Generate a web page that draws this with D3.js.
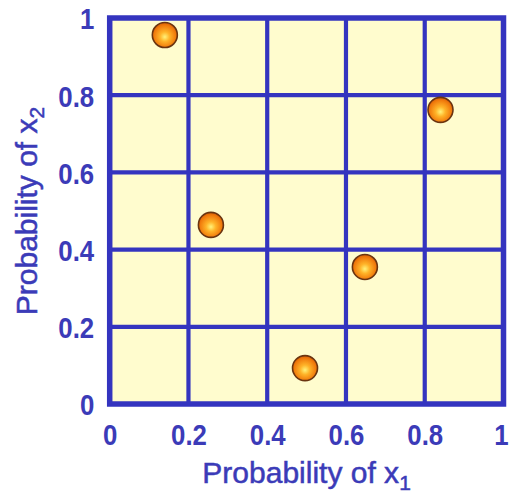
<!DOCTYPE html>
<html>
<head>
<meta charset="utf-8">
<script src="https://cdn.jsdelivr.net/npm/d3@7"></script>
<style>
  html, body { margin: 0; padding: 0; background: #ffffff; }
  svg { display: block; }
  .tick text { font-family: "Liberation Sans", Arial, sans-serif; }
</style>
</head>
<body>
<svg id="chart" width="509" height="495"></svg>
<script>
// Sample points: probability of x1 and x2
const px1 = [0.14, 0.84, 0.257, 0.648, 0.496];
const px2 = [0.956, 0.762, 0.464, 0.355, 0.093];
const tickValues = [0, 0.2, 0.4, 0.6, 0.8, 1];
const tickLabels = ["0", "0.2", "0.4", "0.6", "0.8", "1"];
const xTitle = "Probability of x";
const yTitle = "Probability of x";
const subscriptX = "1";
const subscriptY = "2";

const blue = "#3434bf";
const textBlue = "#3b3bb8";
const fill = "#fffcce";

const svg = d3.select("#chart");
const margin = { left: 109.7, top: 18, right: 5.5, bottom: 91 };
const W = 509, H = 495;

const x = d3.scaleLinear().domain([0, 1]).range([margin.left, W - margin.right]);
const y = d3.scaleLinear().domain([0, 1]).range([H - margin.bottom, margin.top]);

// Gradient for the ball markers
const defs = svg.append("defs");
const grad = defs.append("radialGradient")
  .attr("id", "ball").attr("cx", "50%").attr("cy", "55%").attr("r", "55%")
  .attr("fx", "50%").attr("fy", "58%");
grad.append("stop").attr("offset", "0%").attr("stop-color", "#fff27a");
grad.append("stop").attr("offset", "35%").attr("stop-color", "#ffb328");
grad.append("stop").attr("offset", "80%").attr("stop-color", "#f07a0c");
grad.append("stop").attr("offset", "100%").attr("stop-color", "#d85d05");

// Plot background
svg.append("rect")
  .attr("x", x(0)).attr("y", y(1))
  .attr("width", x(1) - x(0)).attr("height", y(0) - y(1))
  .attr("fill", fill);

// Inner grid lines
const inner = tickValues.filter(v => v > 0 && v < 1);
svg.append("g").selectAll("line.v").data(inner).join("line")
  .attr("x1", d => x(d)).attr("x2", d => x(d))
  .attr("y1", y(0)).attr("y2", y(1))
  .attr("stroke", blue).attr("stroke-width", 4.2);
svg.append("g").selectAll("line.h").data(inner).join("line")
  .attr("y1", d => y(d)).attr("y2", d => y(d))
  .attr("x1", x(0)).attr("x2", x(1))
  .attr("stroke", blue).attr("stroke-width", 4.2);

// Frame
svg.append("rect")
  .attr("x", x(0)).attr("y", y(1))
  .attr("width", x(1) - x(0)).attr("height", y(0) - y(1))
  .attr("fill", "none").attr("stroke", blue).attr("stroke-width", 5.5);

// Axes (labels only, slightly condensed)
const fmt = (d, i) => tickLabels[i];
const xAxis = svg.append("g")
  .attr("transform", `translate(0,${y(0)})`)
  .call(d3.axisBottom(x).tickValues(tickValues).tickFormat(fmt).tickSize(0).tickPadding(41));
const yAxis = svg.append("g")
  .attr("transform", `translate(${x(0)},0)`)
  .call(d3.axisLeft(y).tickValues(tickValues).tickFormat(fmt).tickSize(0).tickPadding(18));
[xAxis, yAxis].forEach(g => {
  g.select(".domain").remove();
  g.selectAll(".tick text")
    .attr("fill", textBlue)
    .attr("font-size", 30)
    .attr("font-weight", "bold")
    .attr("transform", "scale(0.86,1)")
    .attr("dy", "0.36em");
});
xAxis.selectAll(".tick text").attr("dy", "0");
// keep the last x label inside the page edge
xAxis.selectAll(".tick text").filter(d => d === 1).attr("dx", -3);

// Points
svg.append("g").selectAll("circle").data(px1.map((v, i) => [v, px2[i]])).join("circle")
  .attr("cx", d => x(d[0])).attr("cy", d => y(d[1])).attr("r", 12.5)
  .attr("fill", "url(#ball)")
  .attr("stroke", "#6a3410").attr("stroke-width", 1.6);

// Axis titles
const xt = svg.append("text")
  .attr("x", (x(0) + x(1)) / 2).attr("y", 483)
  .attr("text-anchor", "middle")
  .attr("font-family", "Liberation Sans, Arial, sans-serif")
  .attr("font-size", 30).attr("fill", textBlue)
  .attr("stroke", textBlue).attr("stroke-width", 0.5);
xt.append("tspan").text(xTitle);
xt.append("tspan").attr("font-size", 21).attr("dy", 7).text(subscriptX);

const yt = svg.append("text")
  .attr("transform", `translate(37,${(y(0) + y(1)) / 2}) rotate(-90)`)
  .attr("text-anchor", "middle")
  .attr("font-family", "Liberation Sans, Arial, sans-serif")
  .attr("font-size", 30).attr("fill", textBlue)
  .attr("stroke", textBlue).attr("stroke-width", 0.5);
yt.append("tspan").text(yTitle);
yt.append("tspan").attr("font-size", 21).attr("dy", 7).text(subscriptY);
</script>
</body>
</html>
